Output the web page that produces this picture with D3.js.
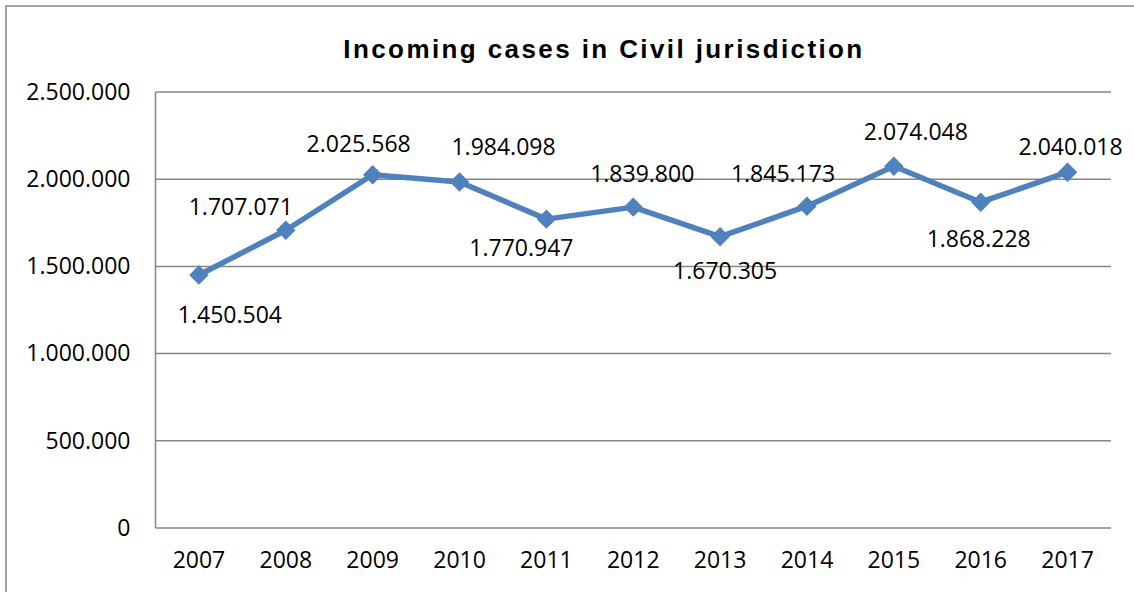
<!DOCTYPE html>
<html>
<head>
<meta charset="utf-8">
<script src="https://cdn.jsdelivr.net/npm/d3@7"></script>
<style>
  html, body { margin: 0; padding: 0; background: #fff; }
  svg { display: block; }
</style>
</head>
<body>
<svg id="chart" width="1134" height="592"></svg>
<script>
const title = "Incoming cases in Civil jurisdiction";
const years = ["2007","2008","2009","2010","2011","2012","2013","2014","2015","2016","2017"];
const incoming = [1450504, 1707071, 2025568, 1984098, 1770947, 1839800, 1670305, 1845173, 2074048, 1868228, 2040018];
const yTicks = [0, 500000, 1000000, 1500000, 2000000, 2500000];
// label placement offsets (px) relative to each point: [dx, dy]
const labelOffsets = [[31,48],[-45,-15],[-14,-23],[44,-27],[-25,37],[9,-25],[5,42],[-24,-24],[22,-26],[-2,45],[3,-17]];

const svg = d3.select("#chart");
const W = 1134, H = 592;
const plot = {left: 155.5, right: 1111, top: 92, bottom: 528};
const font = "'Open Sans', 'Liberation Sans', sans-serif";

// outer frame (cropped at right/bottom)
svg.append("path")
  .attr("d", `M6,${H+5} L6,6 L${W+5},6`)
  .attr("fill", "none").attr("stroke", "#868686").attr("stroke-width", 1.5);

const x = d3.scaleBand().domain(years).range([plot.left, plot.right]);
const y = d3.scaleLinear().domain([0, 2500000]).range([plot.bottom, plot.top]);

const fmt = v => d3.format(",")(v).replace(/,/g, ".");

// gridlines
svg.append("g").selectAll("line").data(yTicks).join("line")
  .attr("x1", plot.left).attr("x2", plot.right)
  .attr("y1", d => y(d)).attr("y2", d => y(d))
  .attr("stroke", "#868686").attr("stroke-width", 1.5);

// left axis line
svg.append("line")
  .attr("x1", plot.left).attr("x2", plot.left)
  .attr("y1", plot.top).attr("y2", plot.bottom)
  .attr("stroke", "#868686").attr("stroke-width", 1.5);

// y axis labels
const yAxis = d3.axisLeft(y).tickValues(yTicks).tickFormat(fmt).tickSize(0).tickPadding(25);
const gy = svg.append("g").attr("transform", `translate(${plot.left},0)`).call(yAxis);
gy.select(".domain").remove();
gy.selectAll("text").attr("font-family", font).attr("font-size", 23).attr("fill", "#000");

// x axis labels
const xAxis = d3.axisBottom(x).tickSize(0).tickPadding(24);
const gx = svg.append("g").attr("transform", `translate(0,${plot.bottom})`).call(xAxis);
gx.select(".domain").remove();
gx.selectAll("text").attr("font-family", font).attr("font-size", 23).attr("fill", "#000");

// title
svg.append("text")
  .attr("x", 604).attr("y", 58)
  .attr("text-anchor", "middle")
  .attr("font-family", "'Liberation Sans', Arial, sans-serif")
  .attr("font-weight", "bold").attr("font-size", 26)
  .attr("letter-spacing", 2.4)
  .text(title);

const pts = years.map((yr, i) => ({yr, v: incoming[i], i}));
const cx = d => x(d.yr) + x.bandwidth() / 2;

// line
svg.append("path").datum(pts)
  .attr("fill", "none").attr("stroke", "#4F81BD").attr("stroke-width", 5.5)
  .attr("stroke-linejoin", "round")
  .attr("d", d3.line().x(cx).y(d => y(d.v)));

// markers
svg.append("g").selectAll("path").data(pts).join("path")
  .attr("transform", d => `translate(${cx(d)},${y(d.v)})`)
  .attr("d", d3.symbol().type(d3.symbolDiamond2).size(240))
  .attr("fill", "#4F81BD");

// data labels
svg.append("g").selectAll("text").data(pts).join("text")
  .attr("x", d => cx(d) + labelOffsets[d.i][0])
  .attr("y", d => y(d.v) + labelOffsets[d.i][1])
  .attr("text-anchor", "middle")
  .attr("font-family", font).attr("font-size", 23).attr("fill", "#000")
  .text(d => fmt(d.v));
</script>
</body>
</html>
